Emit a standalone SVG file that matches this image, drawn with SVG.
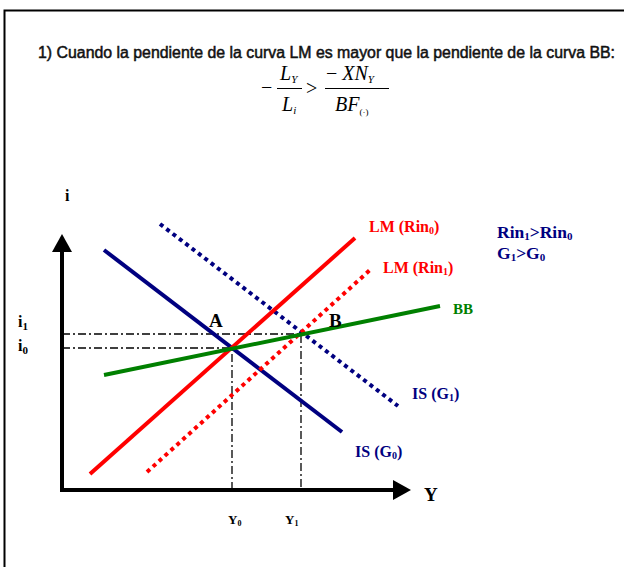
<svg xmlns="http://www.w3.org/2000/svg" width="624" height="567" viewBox="0 0 624 567">
<style>
.lbl{font-family:"Liberation Serif","Times New Roman",serif;font-weight:bold}
.math{font-family:"Liberation Serif","Times New Roman",serif;font-style:italic}
.thick{stroke-width:4;fill:none}
.dot{stroke-dasharray:4 4}
.dd{stroke:#000;stroke-width:1.3;stroke-dasharray:8 3 2 3;fill:none}
</style>
<defs>
<marker id="arr" markerWidth="5" markerHeight="5" refX="0" refY="2.5" orient="auto" markerUnits="strokeWidth">
<path d="M0,0 L4.5,2.5 L0,5 Z" fill="#000"/>
</marker>
</defs>
<rect x="4.5" y="10.5" width="640" height="600" fill="#fff" stroke="#000" stroke-width="2"/>
<g id="title">
<text x="38" y="58" font-family="'Liberation Sans',Arial,sans-serif" font-size="15.8" textLength="577" lengthAdjust="spacingAndGlyphs" fill="#111" stroke="#111" stroke-width="0.5">1) Cuando la pendiente de la curva LM es mayor que la pendiente de la curva BB:</text>
</g>
<g id="formula" class="math" font-size="20" fill="#000">
<text x="261" y="94" font-style="normal">−</text>
<text x="280" y="80">L<tspan font-size="11" dy="3">Y</tspan></text>
<line x1="277" y1="88.5" x2="302" y2="88.5" stroke="#000" stroke-width="1"/>
<text x="282" y="111">L<tspan font-size="11" dy="3">i</tspan></text>
<text x="306" y="95" font-style="normal">&gt;</text>
<text x="326" y="80"><tspan font-style="normal">−</tspan> XN<tspan font-size="11" dy="3">Y</tspan></text>
<line x1="325" y1="88.5" x2="389" y2="88.5" stroke="#000" stroke-width="1"/>
<text x="335" y="111">BF<tspan font-size="9" dy="4" font-style="normal">(·)</tspan></text>
</g>
<g id="connectors">
<line x1="62" y1="490" x2="62" y2="252" stroke="#000" stroke-width="4" marker-end="url(#arr)"/>
<line x1="60" y1="490" x2="393" y2="490" stroke="#000" stroke-width="4" marker-end="url(#arr)"/>
<polyline class="dd" points="62,334 301,334 301,490"/>
<polyline class="dd" points="62,348 232,348 232,490"/>
</g>
<g id="IS0"><line class="thick" x1="104" y1="250" x2="342" y2="432" stroke="#000080"/></g>
<g id="IS1"><line class="thick dot" x1="160" y1="224" x2="398" y2="406" stroke="#000080"/></g>
<g id="LM0"><line class="thick" x1="90" y1="474" x2="355" y2="238" stroke="#ff0000"/></g>
<g id="LM1"><line class="thick dot" x1="147" y1="472" x2="370" y2="270" stroke="#ff0000"/></g>
<g id="BB"><line class="thick" x1="104" y1="375" x2="440" y2="306" stroke="#008000"/></g>
<g id="labels" class="lbl">
<text x="65" y="201" font-size="16">i</text>
<text x="369" y="232" font-size="16" fill="#ff0000">LM (Rin<tspan font-size="10" dy="2">0</tspan><tspan dy="-2">)</tspan></text>
<text x="383" y="273" font-size="16" fill="#ff0000">LM (Rin<tspan font-size="10" dy="2">1</tspan><tspan dy="-2">)</tspan></text>
<text x="497" y="238" font-size="17.5" fill="#000080">Rin<tspan font-size="11" dy="2">1</tspan><tspan dy="-2">&gt;Rin</tspan><tspan font-size="11" dy="2">0</tspan></text>
<text x="497" y="259" font-size="17.5" fill="#000080">G<tspan font-size="11" dy="2">1</tspan><tspan dy="-2">&gt;G</tspan><tspan font-size="11" dy="2">0</tspan></text>
<text x="453" y="314" font-size="15" fill="#008000">BB</text>
<text x="209" y="327" font-size="19">A</text>
<text x="329" y="327" font-size="19">B</text>
<text x="18" y="327" font-size="16">i<tspan font-size="11" dy="3">1</tspan></text>
<text x="18" y="351" font-size="16">i<tspan font-size="11" dy="3">0</tspan></text>
<text x="412" y="399" font-size="16" fill="#000080">IS (G<tspan font-size="10" dy="2">1</tspan><tspan dy="-2">)</tspan></text>
<text x="355" y="457" font-size="16" fill="#000080">IS (G<tspan font-size="10" dy="2">0</tspan><tspan dy="-2">)</tspan></text>
<text x="424" y="501" font-size="19">Y</text>
<text x="228" y="524" font-size="13">Y<tspan font-size="8" dy="2">0</tspan></text>
<text x="285" y="524" font-size="13">Y<tspan font-size="8" dy="2">1</tspan></text>
</g>
</svg>
